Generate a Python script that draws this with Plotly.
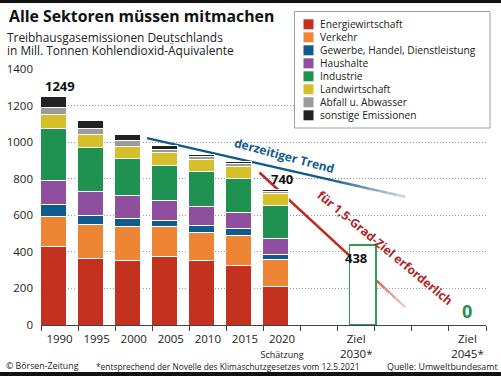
import plotly.graph_objects as go

# ---------------- data ----------------
years = ["1990", "1995", "2000", "2005", "2010", "2015", "2020"]
all_slots = ["1990", "1995", "2000", "2005", "2010", "2015", "2020",
             "2025", "2030", "2035", "2040", "2045"]
tick_labels = ["1990", "1995", "2000", "2005", "2010", "2015",
               "2020<br><span style='font-size:9px'>Schätzung</span>",
               "", "Ziel<br>2030*", "", "", "Ziel<br>2045*"]

sectors = ["Energiewirtschaft", "Verkehr", "Gewerbe, Handel, Dienstleistung",
           "Haushalte", "Industrie", "Landwirtschaft", "Abfall u. Abwasser",
           "sonstige Emissionen"]
colors = ["#c4321f", "#ee8535", "#0d5b8f", "#8d4f9e", "#1f9150",
          "#d6c02a", "#9b9b9b", "#222222"]

energie = [430, 365, 354, 373, 352, 328, 212]
verkehr = [164, 182, 187, 163, 153, 164, 147]
ghd = [64, 53, 44, 38, 38, 34, 27]
haushalte = [133, 130, 121, 109, 107, 88, 88]
industrie = [282, 241, 206, 191, 188, 187, 181]
landwirtschaft = [79, 69, 66, 68, 69, 68, 63]
abfall = [38, 37, 31, 20, 13, 14, 10]
sonstige = [59, 40, 31, 22, 14, 13, 12]
series = [energie, verkehr, ghd, haushalte, industrie, landwirtschaft, abfall, sonstige]

total_labels = ["1249", "", "", "", "", "", "740"]

ziel_slots = ["2030", "2045"]
ziel_values = [438, 0]

# trend lines (x in slot units, y in Mt)
trend_x = [2.36, 9.32]
trend_y = [1022, 701]
target_x = [5.39, 9.32]
target_y = [834, 98]

# ---------------- figure ----------------
FONT = "Open Sans"
L, R, T, B = 41, 486, 69, 325
W, H = R - L, B - T


def px(x):
    return (x - L) / W


def py(y):
    return (B - y) / H


idx = {s: i for i, s in enumerate(all_slots)}
xs = [idx[y] for y in years]

fig = go.Figure()
for name, vals, col in zip(sectors, series, colors):
    fig.add_trace(go.Bar(x=xs, y=vals, name=name, marker_color=col,
                         marker_line_color="white", marker_line_width=1,
                         width=0.7, showlegend=False, hoverinfo="skip"))

# Ziel 2030 outline bar
fig.add_trace(go.Bar(x=[idx[ziel_slots[0]]], y=[ziel_values[0]], width=0.72,
                     marker_color="white", marker_line_color="#2f9e55",
                     marker_line_width=1.6, showlegend=False, hoverinfo="skip",
                     base=0, offsetgroup="z"))

shapes = []


def mix(c, f):
    c = c.lstrip("#")
    r, g, b = int(c[0:2], 16), int(c[2:4], 16), int(c[4:6], 16)
    r = int(r + (255 - r) * f)
    g = int(g + (255 - g) * f)
    b = int(b + (255 - b) * f)
    return f"rgb({r},{g},{b})"


def faded_line(x0, y0, x1, y1, col, width):
    cut = 0.72
    xm, ym = x0 + (x1 - x0) * cut, y0 + (y1 - y0) * cut
    shapes.append(dict(type="line", xref="x", yref="y", x0=x0, y0=y0, x1=xm, y1=ym,
                       line=dict(color=col, width=width), layer="between"))
    n = 8
    for k in range(n):
        t0 = cut + (1 - cut) * k / n
        t1 = cut + (1 - cut) * (k + 1) / n
        shapes.append(dict(type="line", xref="x", yref="y",
                           x0=x0 + (x1 - x0) * t0, y0=y0 + (y1 - y0) * t0,
                           x1=x0 + (x1 - x0) * t1, y1=y0 + (y1 - y0) * t1,
                           line=dict(color=mix(col, 0.75 * (k + 1) / n), width=width),
                           layer="between"))


faded_line(trend_x[0], trend_y[0], trend_x[1], trend_y[1], "#0f5a8a", 2.5)
faded_line(target_x[0], target_y[0], target_x[1], target_y[1], "#c0281e", 2.5)

# top / bottom black rules
shapes.append(dict(type="rect", xref="paper", yref="paper", x0=px(0), x1=px(501),
                   y0=py(0), y1=py(3), fillcolor="#111", line_width=0, layer="above"))
shapes.append(dict(type="rect", xref="paper", yref="paper", x0=px(0), x1=px(501),
                   y0=py(372), y1=py(376), fillcolor="#111", line_width=0, layer="above"))

# custom legend box
shapes.append(dict(type="rect", xref="paper", yref="paper", x0=px(294.5), x1=px(490),
                   y0=py(11.5), y1=py(128), fillcolor="white",
                   line=dict(color="#a0a0a0", width=1), layer="above"))

annotations = []
for k, (name, col) in enumerate(zip(sectors, colors)):
    yc = 24.3 + 13 * k
    shapes.append(dict(type="rect", xref="paper", yref="paper", x0=px(303.5), x1=px(313.5),
                       y0=py(yc - 5), y1=py(yc + 5), fillcolor=col, line_width=0,
                       layer="above"))
    annotations.append(dict(xref="paper", yref="paper", x=px(318), y=py(yc),
                            text=name, showarrow=False, xanchor="left", yanchor="middle",
                            font=dict(family=FONT, size=10.2, color="#222")))

# titles
annotations.append(dict(xref="paper", yref="paper", x=px(7), y=py(16),
                        text="<b>Alle Sektoren müssen mitmachen</b>", showarrow=False,
                        xanchor="left", yanchor="middle",
                        font=dict(family=FONT, size=15.8, color="#111")))
annotations.append(dict(xref="paper", yref="paper", x=px(6), y=py(36.5),
                        text="Treibhausgasemissionen Deutschlands", showarrow=False,
                        xanchor="left", yanchor="middle", borderpad=0,
                        font=dict(family=FONT, size=11.9, color="#222")))
annotations.append(dict(xref="paper", yref="paper", x=px(6), y=py(49.5),
                        text="in Mill. Tonnen Kohlendioxid-Äquivalente", showarrow=False,
                        xanchor="left", yanchor="middle", borderpad=0,
                        font=dict(family=FONT, size=11.9, color="#222")))

# footer
for txt, x, anc, fs in [("© Börsen-Zeitung", 4, "left", 8.8),
                        ("*entsprechend der Novelle des Klimaschutzgesetzes vom 12.5.2021", 94, "left", 8.4),
                        ("Quelle: Umweltbundesamt", 500, "right", 8.9)]:
    annotations.append(dict(xref="paper", yref="paper", x=px(x), y=py(366), text=txt,
                            showarrow=False, xanchor=anc, yanchor="middle",
                            font=dict(family=FONT, size=fs, color="#222")))

# value labels
totals = [sum(v) for v in zip(*series)]
for x, tl, tot in zip(xs, total_labels, totals):
    if tl:
        annotations.append(dict(x=x, y=tot, text=f"<b>{tl}</b>", showarrow=False,
                                yanchor="bottom", yshift=0,
                                font=dict(family=FONT, size=13, color="#111")))
annotations.append(dict(x=idx[ziel_slots[0]], y=ziel_values[0], text=f"<b>{ziel_values[0]}</b>",
                        showarrow=False, yanchor="top", yshift=-2,
                        font=dict(family=FONT, size=13, color="#111")))
annotations.append(dict(x=idx[ziel_slots[1]], y=ziel_values[1], text=f"<b>{ziel_values[1]}</b>",
                        showarrow=False, yanchor="bottom", yshift=0,
                        font=dict(family=FONT, size=18, color="#2a8f4e")))

# line labels
annotations.append(dict(xref="paper", yref="paper", x=px(284), y=py(155),
                        xanchor="center", yanchor="middle",
                        text="<b>derzeitiger Trend</b>", showarrow=False, textangle=15,
                        font=dict(family=FONT, size=12, color="#135a8c")))
annotations.append(dict(xref="paper", yref="paper", x=px(385), y=py(247),
                        xanchor="center", yanchor="middle",
                        text="<b>für 1,5-Grad-Ziel erforderlich</b>", showarrow=False,
                        textangle=39.6,
                        font=dict(family=FONT, size=12, color="#b0261e")))

fig.update_layout(
    width=501, height=376, autosize=False,
    margin=dict(l=L, r=501 - R, t=T, b=376 - B),
    paper_bgcolor="white", plot_bgcolor="white",
    barmode="stack", bargap=0.3,
    shapes=shapes, annotations=annotations,
    font=dict(family=FONT, size=12, color="#222"),
    xaxis=dict(range=[-0.5, 11.5], tickmode="array", tickvals=list(range(12)),
               ticktext=tick_labels, ticks="", showgrid=False, zeroline=False,
               showline=True, linecolor="#444", linewidth=1, tickangle=0,
               automargin=False,
               tickfont=dict(family=FONT, size=11.5, color="#222"),
               ticklabelstandoff=3,
               minor=dict(tickmode="array", tickvals=[k - 0.5 for k in range(13)],
                          ticks="outside", ticklen=5, tickcolor="#444", tickwidth=1,
                          showgrid=False)),
    yaxis=dict(range=[0, 1400], tickvals=[0, 200, 400, 600, 800, 1000, 1200, 1400],
               showgrid=True, gridcolor="#9a9a9a", gridwidth=1, griddash="1px,2px",
               zeroline=False, showline=False, ticks="", automargin=False,
               tickfont=dict(family=FONT, size=11.5, color="#222"),
               ticklabelstandoff=7),
)

fig.write_html("out.html", config={"displayModeBar": False},
               post_script="document.body.style.margin='0';document.body.style.overflow='hidden';")
